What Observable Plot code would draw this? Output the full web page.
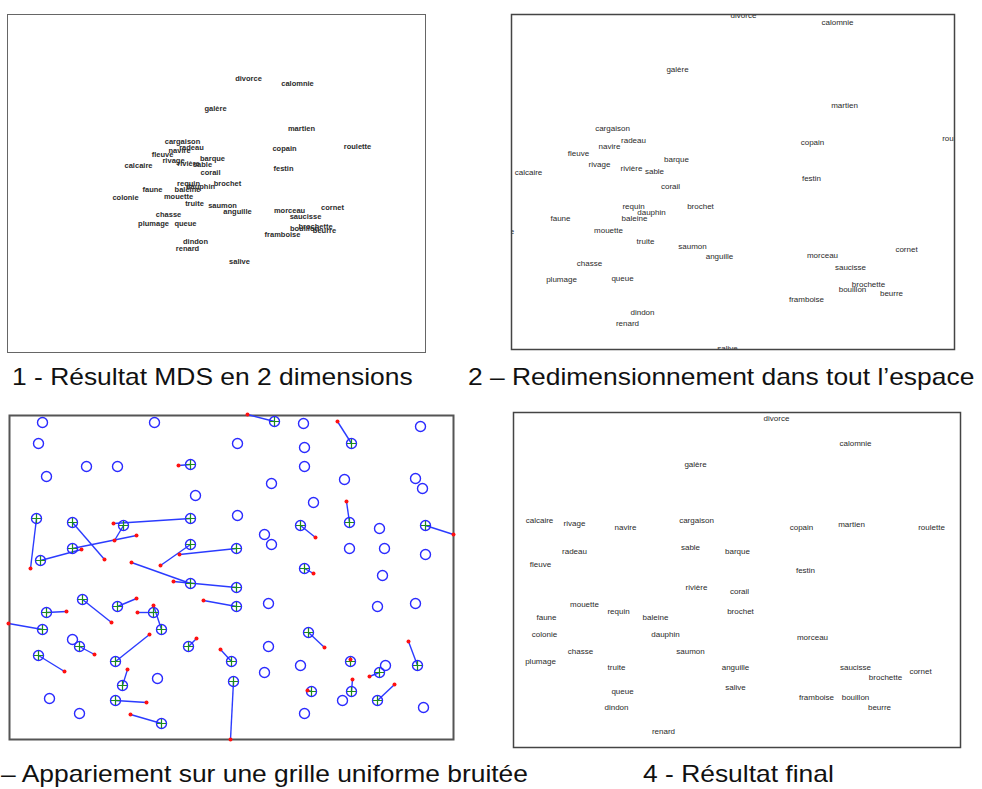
<!DOCTYPE html>
<html><head><meta charset="utf-8">
<script src="https://cdn.jsdelivr.net/npm/d3@7"></script>
<script src="https://cdn.jsdelivr.net/npm/@observablehq/plot@0.6"></script>
<style>
body{margin:0;background:#fff;}
#root{position:relative;width:982px;height:789px;overflow:hidden;background:#fff;font-family:'Liberation Sans',Arial,sans-serif;}
.panel{position:absolute;}
.cap{position:absolute;font-size:24px;line-height:24px;white-space:nowrap;color:#111;transform:scaleX(1.1);}
</style></head><body><div id="root"></div>
<script>
// ---- words ----
const words = ["divorce","calomnie","galère","martien","roulette","copain","festin","cargaison","radeau","navire",
  "fleuve","rivage","rivière","sable","barque","calcaire","corail","requin","dauphin","baleine",
  "brochet","faune","colonie","mouette","truite","saumon","anguille","chasse","plumage","queue",
  "morceau","cornet","saucisse","brochette","bouillon","beurre","framboise","dindon","renard","salive"];

// ---- 1: MDS result in 2 dimensions (panel units) ----
const mdsX = [241,290,208,294,350,277,276,175,184,172,155,166,181,195,205,131,203,181,193,180,220,145,118,171,187,215,230,161,146,178,282,325,298,308,297,317,275,188,180,232];
const mdsY = [64,69,94,114,132,134,154,127,133,136,140,146,149,150,144,151,158,169,172,175,169,175,183,182,189,191,197,200,209,209,196,193,202,212,214,216,220,227,234,247];

// ---- 2: rescaled to the whole space ----
const scaledX = [232,326,166,333,444,301,300,101,122,98,67,88,120,143,165,17,159,122,140,123,189,49,-10,97,134,181,208,78,50,111,311,395,339,357,341,380,295,131,116,216];
const scaledY = [1,8,55,91,124,128,164,114,126,132,139,150,154,157,145,158,172,192,198,204,192,204,217,216,227,232,242,249,265,264,241,235,253,270,275,279,285,298,309,334];

// ---- 3: matching on a noisy uniform grid ----
const freeGridX = [33,145,29,77,108,37,186,63,148,40,70,294,411,228,295,295,262,335,406,413,304,228,370,255,262,340,375,416,373,259,368,406,259,291,255,376,333,414,295];
const freeGridY = [7,7,28,51,51,61,80,224,263,283,298,8,11,28,32,51,68,64,63,73,87,100,113,119,129,133,133,139,160,188,191,188,231,250,257,250,285,292,298];
const matchedX = [181,27,63,114,181,63,31,181,227,181,227,227,73,37,33,108,144,152,70,29,106,179,222,113,106,152,265,342,340,291,416,295,299,341,370,408,224,302,342,368];
const matchedY = [49,103,107,110,103,133,145,129,133,168,172,191,184,197,214,191,197,214,231,240,246,231,246,270,285,308,6,28,107,110,110,153,217,246,257,250,266,276,276,285];
const noisyX = [169,21,95,105,104,127,72,151,170,122,164,194,102,57,-1,127,128,144,85,55,140,187,211,118,137,121,238,328,337,306,444,304,315,341,360,399,221,298,343,385];
const noisyY = [50,153,144,125,108,120,134,150,139,147,166,185,207,196,208,183,197,190,239,256,219,223,234,254,287,299,-1,6,86,122,119,158,232,244,261,226,324,275,264,269];

// ---- 4: final result ----
const finalX = [263,342,182,338,418,288,292,183,61,112,27,61,183,177,224,26,226,105,152,142,227,33,31,71,103,177,222,67,27,109,299,407,342,372,342,366,303,103,150,222];
const finalY = [6,31,52,112,115,115,158,108,139,115,152,111,175,135,139,108,179,199,222,205,199,205,222,192,255,239,255,239,249,279,225,259,255,265,285,295,285,295,319,275];

const captions = [
  "1 - Résultat MDS en 2 dimensions",
  "2 – Redimensionnement dans tout l’espace",
  "3 – Appariement sur une grille uniforme bruitée",
  "4 - Résultat final"
];

const FONT = "'Liberation Sans', Arial, sans-serif";
const root = document.getElementById("root");

function panel(left, top, W, H, m, marks) {
  const svg = Plot.plot({
    width: W + 2*m, height: H + 2*m, margin: m,
    x: {domain: [0, W], axis: null},
    y: {domain: [H, 0], axis: null},
    style: {background: "transparent", fontFamily: FONT, overflow: "visible"},
    marks
  });
  const div = document.createElement("div");
  div.className = "panel";
  div.style.left = (left - m) + "px";
  div.style.top = (top - m) + "px";
  div.appendChild(svg);
  root.appendChild(div);
}

const idx = d3.range(words.length);

// Panel 1
panel(7, 14, 418, 338, 3, [
  Plot.frame({stroke: "#666", strokeWidth: 1}),
  Plot.text(idx, {x: i => mdsX[i], y: i => mdsY[i], text: i => words[i],
    fontSize: 7.5, fontWeight: "bold", fill: "#2a2a2a"})
]);

// Panel 2
panel(511, 14, 443, 335, 3, [
  Plot.text(idx, {x: i => scaledX[i], y: i => scaledY[i], text: i => words[i],
    fontSize: 8, fill: "#2a2a2a", clip: true}),
  Plot.frame({stroke: "#444", strokeWidth: 1.5})
]);

// Panel 3
const crossSymbol = {draw(ctx, size) {
  const r = Math.sqrt(size / Math.PI);
  ctx.moveTo(-r, 0); ctx.lineTo(r, 0); ctx.moveTo(0, -r); ctx.lineTo(0, r);
}};
const freeIdx = d3.range(freeGridX.length);
const pairIdx = d3.range(matchedX.length);
panel(9, 415, 444, 324, 4, [
  Plot.frame({stroke: "#555", strokeWidth: 2}),
  Plot.link(pairIdx, {x1: i => matchedX[i], y1: i => matchedY[i], x2: i => noisyX[i], y2: i => noisyY[i],
    stroke: "#2b3bff", strokeWidth: 1.4}),
  Plot.dot(freeIdx, {x: i => freeGridX[i], y: i => freeGridY[i], r: 5, stroke: "#2b2bff", strokeWidth: 1.4, fill: "none"}),
  Plot.dot(pairIdx, {x: i => matchedX[i], y: i => matchedY[i], r: 5, stroke: "#2b2bff", strokeWidth: 1.4, fill: "none"}),
  Plot.dot(pairIdx, {x: i => matchedX[i], y: i => matchedY[i], symbol: crossSymbol, r: 4.5, stroke: "#1e8c1e", strokeWidth: 1.2, fill: "none"}),
  Plot.dot(pairIdx, {x: i => noisyX[i], y: i => noisyY[i], r: 2, fill: "#ff1111", stroke: "none"})
]);

// Panel 4
panel(513, 412, 447, 335, 3, [
  Plot.text(idx, {x: i => finalX[i], y: i => finalY[i], text: i => words[i],
    fontSize: 8, fill: "#2a2a2a", clip: true}),
  Plot.frame({stroke: "#444", strokeWidth: 1.5})
]);

// Captions
function caption(text, pos, origin) {
  const d = document.createElement("div");
  d.className = "cap";
  d.textContent = text;
  Object.assign(d.style, pos);
  d.style.transformOrigin = origin;
  root.appendChild(d);
}
caption(captions[0], {left: "12px", top: "365px"}, "0 0");
caption(captions[1], {left: "468px", top: "365px"}, "0 0");
caption(captions[2], {right: "454px", top: "762px"}, "100% 0");
caption(captions[3], {left: "643px", top: "762px"}, "0 0");
</script>
</body></html>
